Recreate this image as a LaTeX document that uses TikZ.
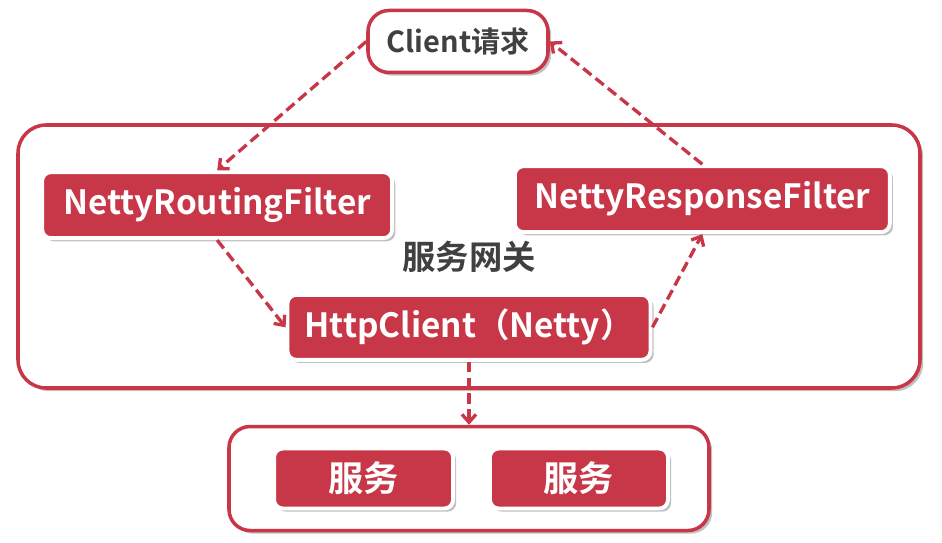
\documentclass[tikz,border=0pt]{standalone}
\usepackage{fontspec}
\setmainfont{Noto Sans CJK SC}[BoldFont=* Bold]
\usepackage{tikz}
\usetikzlibrary{arrows.meta, positioning, shadows}
\definecolor{GateRed}{RGB}{200,55,72}
\definecolor{TextGray}{RGB}{64,64,64}

\begin{document}
\begin{tikzpicture} [
     R/.style = {draw=white, line width=2.2pt, fill=GateRed, rounded corners=5pt,
                 text=white, font=\fontsize{19}{21}\selectfont\bfseries,
                 inner sep=0pt, align=center},
     W/.style = {draw=GateRed, line width=2pt, fill=white, inner sep=0pt},
   dsh/.style = {drop shadow={shadow xshift=1.8pt, shadow yshift=-1.8pt, opacity=0.35, fill=black!70}},
    every edge/.style={draw=GateRed, line width=1.9pt, dash pattern=on 6pt off 3pt,
                       -{Straight Barb[length=4.5pt, width=8pt]}}
]
  \useasboundingbox (0,0) rectangle (18.84,-10.86);

  % Outer boxes
  \node[W, dsh, rounded corners=16pt, minimum width=18.04cm, minimum height=5.26cm]
        (gateway) at (9.38,-5.13) {};
  \node[font=\fontsize{19}{21}\selectfont\bfseries, text=TextGray] (gwlabel) at (gateway.center) {服务网关};
  \node[W, dsh, rounded corners=12pt, minimum width=3.6cm, minimum height=1.24cm,
        text=TextGray, font=\fontsize{16.5}{18}\selectfont\bfseries]
        (client) [above=0.98cm of gateway, xshift=-0.22cm] {Client请求};
  \node[W, dsh, rounded corners=12pt, minimum width=9.6cm, minimum height=2.08cm]
        (services) [below=0.7cm of gateway] {};

  % Filters
  \node[R, dsh, minimum width=7cm, minimum height=1.32cm]
        (routing) [below right=0.94cm and 0.48cm of gateway.north west] {NettyRoutingFilter};
  \node[R, dsh, minimum width=7.5cm, minimum height=1.32cm]
        (response) [below left=0.82cm and 0.6cm of gateway.north east] {NettyResponseFilter};
  \node[R, dsh, minimum width=7.26cm, minimum height=1.3cm]
        (httpclient) [above=0.56cm of gateway.south] {HttpClient（Netty）};

  % Services
  \node[R, dsh, minimum width=3.58cm, minimum height=1.2cm, font=\fontsize{20}{22}\selectfont\bfseries]
        (svcA) [left=0.28cm of services.center] {服务};
  \node[R, dsh, minimum width=3.56cm, minimum height=1.2cm, font=\fontsize{20}{22}\selectfont\bfseries]
        (svcB) [right=0.38cm of services.center] {服务};

  % Edges
  \path (client.west) edge (routing.north);
  \path (routing.south) edge (httpclient.west);
  \path (httpclient.east) edge (response.south);
  \path (response.north) edge (client.east);
  \path (httpclient.south) edge (services.north);

\end{tikzpicture}
\end{document}
